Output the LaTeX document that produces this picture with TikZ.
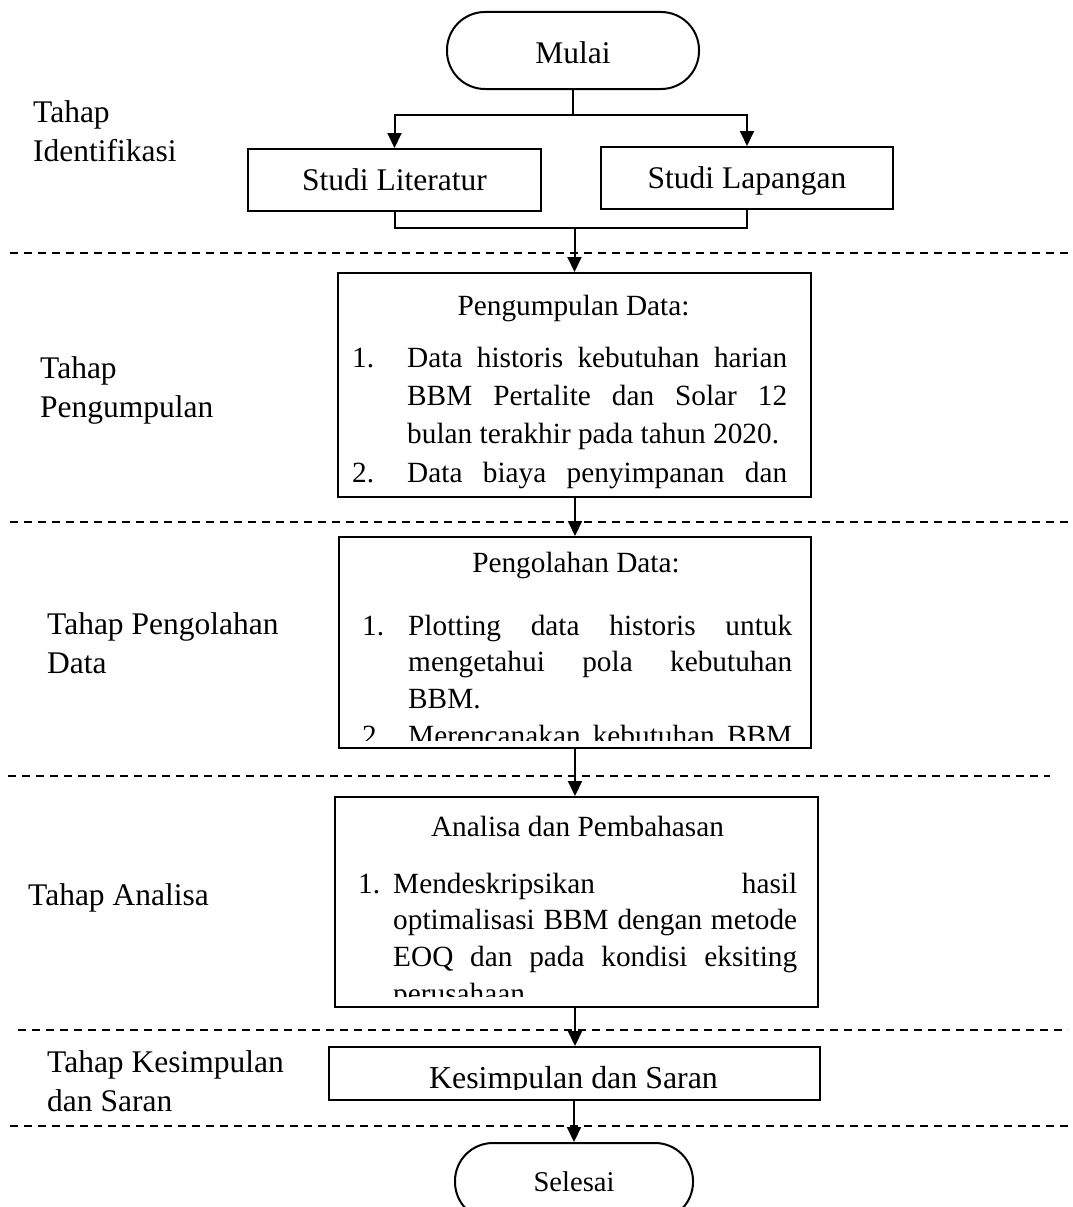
\documentclass[tikz,border=0pt]{standalone}
\usepackage{fontspec}
\setmainfont{Liberation Serif}
\usetikzlibrary{arrows.meta}
\newcommand\besar{\fontsize{31.5}{39.5}\selectfont}
\newcommand\isi[1]{\fontsize{29.3}{#1}\selectfont}
\tikzset{
	terminal/.style={draw, line width=2pt, rounded corners=38pt, minimum width=#1, minimum height=77pt, inner sep=0pt, text height=20pt, text depth=0pt},
	proses/.style={draw, line width=2pt, inner sep=0pt, text height=21pt, text depth=0pt},
	teks/.style={anchor=base west, inner sep=0pt},
	garis/.style={line width=2pt},
	panah/.style={line width=2pt, -{Triangle[width=14pt,length=15pt]}},
	batas/.style={line width=2pt, dash pattern=on 8pt off 6pt}
}

\begin{document}
\begin{tikzpicture}[x=1pt, y=-1pt]
		%%%%% START %%%%%
		\useasboundingbox (0,0) rectangle (1073,1207);
		
		\foreach \y/\a/\b in {253/10/1068, 522/10/1068, 776/8/1050, 1030/18/1068, 1126/10/1068}
			\draw[batas] (\a,\y) -- (\b,\y);
		
		% tahap
		\node[teks, font=\besar] (t1) at (33,122) {\parbox[t]{280pt}{Tahap\\Identifikasi}};
		\node[teks, font=\besar] (t2) at (40,378) {\parbox[t]{280pt}{Tahap\\Pengumpulan}};
		\node[teks, font=\besar] (t3) at (47,634) {\parbox[t]{280pt}{Tahap Pengolahan\\Data}};
		\node[teks, font=\besar] (t4) at (28,905) {Tahap Analisa};
		\node[teks, font=\besar] (t5) at (47,1072) {\parbox[t]{280pt}{Tahap Kesimpulan\\dan Saran}};
		
		% kotak
		\node[terminal=252pt, font=\besar, text height=26pt] (mulai) at (573,50.5) {Mulai};
		\node[proses, minimum width=293pt, minimum height=62pt, font=\besar] (lit) at (394.5,180) {Studi Literatur};
		\node[proses, minimum width=292pt, minimum height=62pt, font=\besar] (lap) at (747,178) {Studi Lapangan};
		\node[proses, minimum width=473pt, minimum height=224pt] (kumpul) at (574.5,385) {};
		\node[proses, minimum width=472pt, minimum height=211pt] (olah) at (575,642.5) {};
		\node[proses, minimum width=483pt, minimum height=210pt] (analisa) at (576.5,902) {};
		\node[proses, minimum width=491pt, minimum height=53pt] (simpul) at (574,1073.5) {};
		\node[terminal=238pt, font=\fontsize{28.6}{34}\selectfont, text height=19pt] (selesai) at (574,1181.5) {Selesai};
		
		\begin{scope}
			\clip (337,273) rectangle (811,488);
			\node[anchor=base, font=\isi{38.3}] (kumpul-j) at (573.5,315) {Pengumpulan Data:};
			\node[teks, font=\isi{38.3}] (kumpul-1) at (352,367) {1.};
			\node[teks, font=\isi{38.3}] (kumpul-1t) at (407,367) {\parbox[t]{380pt}{%
				\makebox[\linewidth][s]{Data historis kebutuhan harian}\\
				\makebox[\linewidth][s]{BBM Pertalite dan Solar 12}\\
				bulan terakhir pada tahun 2020.}};
			\node[teks, font=\isi{38.3}] (kumpul-2) at (352,482) {2.};
			\node[teks, font=\isi{38.3}] (kumpul-2t) at (407,482) {\makebox[380pt][s]{Data biaya penyimpanan dan}};
		\end{scope}
		
		\begin{scope}
			\clip (339,537) rectangle (811,740);
			\node[anchor=base, font=\isi{36.7}] (olah-j) at (576,572) {Pengolahan Data:};
			\node[teks, font=\isi{36.7}] (olah-1) at (362,635) {1.};
			\node[teks, font=\isi{36.7}] (olah-1t) at (408,635) {\parbox[t]{384pt}{%
				\makebox[\linewidth][s]{Plotting data historis untuk}\\
				\makebox[\linewidth][s]{mengetahui pola kebutuhan}\\
				BBM.}};
			\node[teks, font=\isi{36.7}] (olah-2) at (362,745) {2.};
			\node[teks, font=\isi{36.7}] (olah-2t) at (408,745) {\makebox[384pt][s]{Merencanakan kebutuhan BBM}};
		\end{scope}
		
		\begin{scope}
			\clip (335,797) rectangle (818,996);
			\node[anchor=base, font=\isi{36.7}] (analisa-j) at (577.5,836) {Analisa dan Pembahasan};
			\node[teks, font=\isi{36.7}] (analisa-1) at (358,893) {1.};
			\node[teks, font=\isi{36.7}] (analisa-1t) at (393,893) {\parbox[t]{404pt}{%
				\makebox[\linewidth][s]{Mendeskripsikan hasil}\\
				\makebox[\linewidth][s]{optimalisasi BBM dengan metode}\\
				\makebox[\linewidth][s]{EOQ dan pada kondisi eksiting}\\
				perusahaan}};
		\end{scope}
		
		\begin{scope}
			\clip (328,1047) rectangle (819,1089);
			\node[anchor=base, font=\fontsize{31.9}{38}\selectfont] (simpul-j) at (573.5,1088) {Kesimpulan dan Saran};
		\end{scope}
		
		% panah
		\coordinate (cabang) at (573,115);
		\coordinate (gabung) at (574.5,228);
		\draw[garis] (mulai.south) -- (cabang);
		\draw[panah] (cabang) -| (lit.north);
		\draw[panah] (cabang) -| (lap.north);
		\draw[garis] (lit.south) |- (gabung) -| (lap.south);
		\draw[panah] (gabung) -- (kumpul.north);
		\draw[panah] (kumpul.south -| olah.north) -- (olah.north);
		\draw[panah] (olah.south) -- (olah.south |- analisa.north);
		\draw[panah] (olah.south |- analisa.south) -- (olah.south |- simpul.north);
		\draw[panah] (simpul.south) -- (selesai.north);
		%%%%% END %%%%%
\end{tikzpicture}
\end{document}
